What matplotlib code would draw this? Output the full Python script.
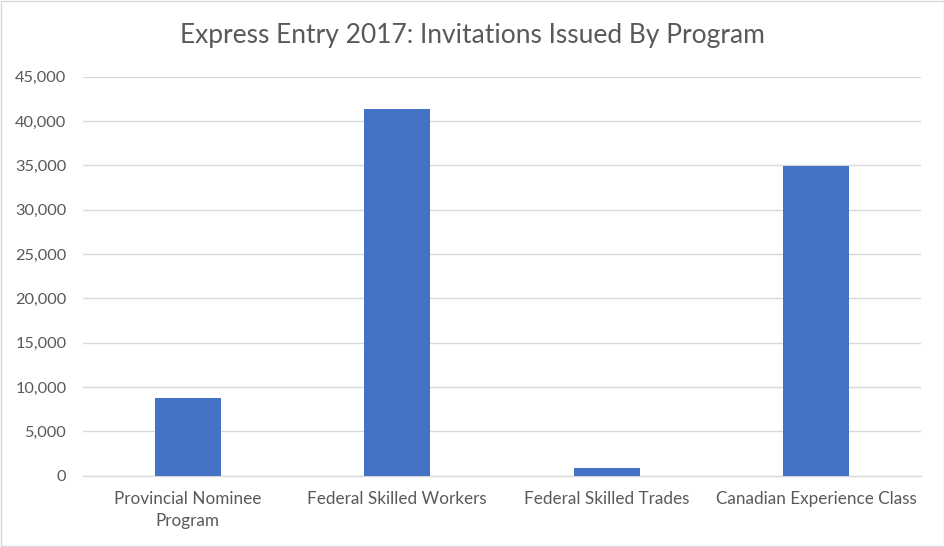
import matplotlib
matplotlib.use("Agg")
import matplotlib.pyplot as plt
from matplotlib.patches import Rectangle
from matplotlib.ticker import FuncFormatter

# Invitations issued in 2017
programs = ["Provincial Nominee\nProgram", "Federal Skilled Workers",
            "Federal Skilled Trades", "Canadian Experience Class"]
invitations = [8750, 41400, 850, 34950]
y_ticks = [0, 5000, 10000, 15000, 20000, 25000, 30000, 35000, 40000, 45000]

BAR_COLOR = "#4472C4"
TEXT_COLOR = "#595959"
GRID_COLOR = "#D9D9D9"

plt.rcParams["font.family"] = ["Lato", "DejaVu Sans"]

fig = plt.figure(figsize=(9.45, 5.47), dpi=100)
ax = fig.add_axes([83 / 945, 71.3 / 547, 838 / 945, 399 / 547])

x = range(len(programs))
ax.bar(x, invitations, width=0.315, color=BAR_COLOR, zorder=3)

ax.set_xlim(-0.5, len(programs) - 0.5)
ax.set_ylim(0, 45000)
ax.set_yticks(y_ticks)
ax.yaxis.set_major_formatter(FuncFormatter(lambda v, p: f"{int(v):,}"))
ax.set_xticks(list(x))
ax.set_xticklabels(programs, linespacing=1.45)

ax.grid(axis="y", color=GRID_COLOR, linewidth=1.0, zorder=0)
for side in ["top", "right", "left"]:
    ax.spines[side].set_visible(False)
ax.spines["bottom"].set_color(GRID_COLOR)
ax.spines["bottom"].set_linewidth(1.0)

ax.tick_params(axis="both", length=0, colors=TEXT_COLOR)
ax.tick_params(axis="y", pad=12, labelsize=11.8)
ax.tick_params(axis="x", pad=11, labelsize=12.3)

fig.text(0.5, 1 - 36 / 547, "Express Entry 2017: Invitations Issued By Program",
         ha="center", va="center", fontsize=19, color=TEXT_COLOR)

# thin border round the whole chart
fig.patches.append(Rectangle((0.0008, 0.0012), 0.9984, 0.9976, transform=fig.transFigure,
                             fill=False, edgecolor=GRID_COLOR, linewidth=1.0))

fig.savefig("out.png", dpi=100)
